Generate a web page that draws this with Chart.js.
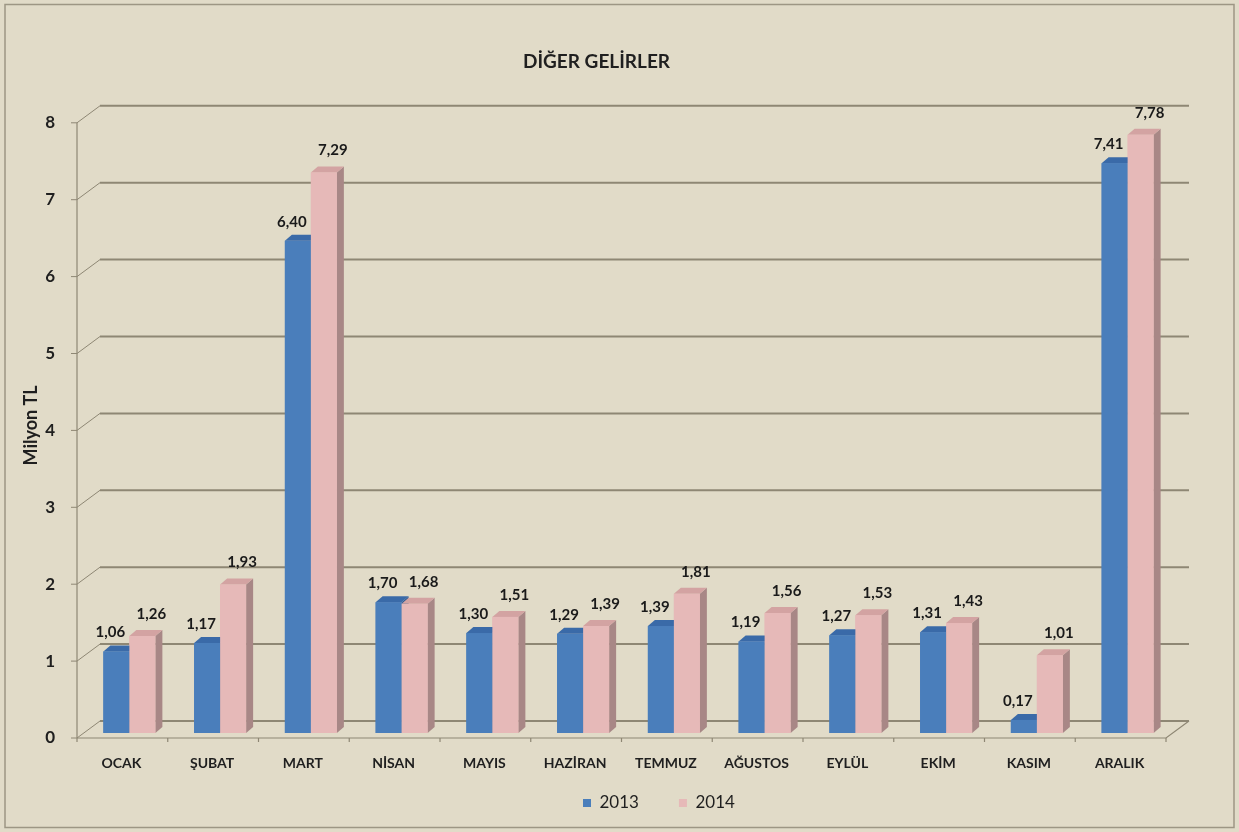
<!DOCTYPE html>
<html>
<head>
<meta charset="utf-8">
<title>Diğer Gelirler</title>
<script src="https://cdn.jsdelivr.net/npm/chart.js@4.4.0/dist/chart.umd.min.js"></script>
<style>
  html, body { margin: 0; padding: 0; background: #e1dbc8; }
  canvas { display: block; }
</style>
</head>
<body>
<canvas id="gelirChart" width="1239" height="832"></canvas>
<script>
// veriler (milyon TL)
const aylar = ['OCAK', 'ŞUBAT', 'MART', 'NİSAN', 'MAYIS', 'HAZİRAN', 'TEMMUZ', 'AĞUSTOS', 'EYLÜL', 'EKİM', 'KASIM', 'ARALIK'];
const gelir2013 = [1.06, 1.17, 6.40, 1.70, 1.30, 1.29, 1.39, 1.19, 1.27, 1.31, 0.17, 7.41];
const gelir2014 = [1.26, 1.93, 7.29, 1.68, 1.51, 1.39, 1.81, 1.56, 1.53, 1.43, 1.01, 7.78];
const yilEtiketleri = ['2013', '2014'];
const yMin = 0;
const yMax = 8;

Chart.defaults.font.family = 'Lato, "Open Sans", sans-serif';
Chart.defaults.color = '#1f1f1f';

// 3B görünüm ayarları
const bar3d = { dx: 7, dy: 6 };
const wall = { dx: 23, dy: 17, front: 5 };
const lejantYer = { x: 583, y: 803 };

const renkler = {
  arka: '#e1dbc8',
  cerceve: '#9d9684',
  izgara: '#8e8774',
  mavi: { on: '#4a7ebb', yan: '#2e5b93', ust: '#3a6aa8' },
  pembe: { on: '#e6b9b8', yan: '#a88786', ust: '#d3a3a2' }
};

const virgul = v => v.toFixed(2).replace('.', ',');

const uc3Boyut = {
  id: 'uc3Boyut',
  beforeDraw(chart) {
    const ctx = chart.ctx;
    ctx.save();
    ctx.fillStyle = renkler.arka;
    ctx.fillRect(0, 0, chart.width, chart.height);
    ctx.strokeStyle = renkler.cerceve;
    ctx.lineWidth = 1.5;
    ctx.strokeRect(5, 4.5, chart.width - 10, chart.height - 9);
    ctx.restore();
  },
  afterLayout(chart) {
    // lejandı referanstaki yerine taşı
    const lg = chart.legend;
    const pad = lg.options.labels.padding;
    const basla = (lg.left + pad + lg.right - lg.lineWidths[0]) / 2;
    const kay = lejantYer.x - basla;
    lg.left += kay;
    lg.right += kay;
    const itemH = lg.options.labels.font.size;
    lg.top = lejantYer.y - itemH / 2 - pad;
    lg.height = itemH + pad * 2;
    lg.bottom = lg.top + lg.height;
  },
  beforeDatasetsDraw(chart) {
    const { ctx, chartArea, scales } = chart;
    const y = scales.y;
    const onSol = chartArea.left - 7;
    const onSag = chartArea.right - 7;
    const arkaSol = onSol + wall.dx;
    const arkaSag = onSag + wall.dx;
    ctx.save();
    ctx.strokeStyle = renkler.izgara;
    for (let v = yMin; v <= yMax; v++) {
      const onY = y.getPixelForValue(v) + wall.front;
      const arkaY = onY - wall.dy;
      // arka duvar çizgisi
      ctx.lineWidth = 2;
      ctx.beginPath();
      ctx.moveTo(arkaSol, arkaY);
      ctx.lineTo(arkaSag, arkaY);
      ctx.stroke();
      // sol duvar bağlantısı
      ctx.lineWidth = 1;
      ctx.beginPath();
      ctx.moveTo(onSol, onY);
      ctx.lineTo(arkaSol, arkaY);
      ctx.stroke();
      // eksen çentiği
      ctx.beginPath();
      ctx.moveTo(onSol - 6, onY);
      ctx.lineTo(onSol, onY);
      ctx.stroke();
    }
    const on0 = y.getPixelForValue(yMin) + wall.front;
    const on8 = y.getPixelForValue(yMax) + wall.front;
    // dikey eksen
    ctx.lineWidth = 1.2;
    ctx.beginPath();
    ctx.moveTo(onSol, on8);
    ctx.lineTo(onSol, on0);
    ctx.stroke();
    // zemin ön kenarı ve sağ kenar
    ctx.beginPath();
    ctx.moveTo(onSol, on0);
    ctx.lineTo(onSag, on0);
    ctx.lineTo(arkaSag, on0 - wall.dy);
    ctx.stroke();
    // kategori çentikleri
    const x = scales.x;
    const adim = (chartArea.right - chartArea.left) / aylar.length;
    for (let i = 0; i <= aylar.length; i++) {
      const px = x.getPixelForValue(0) - adim / 2 + adim * i - 7;
      ctx.beginPath();
      ctx.moveTo(px, on0);
      ctx.lineTo(px, on0 + 4);
      ctx.stroke();
    }
    ctx.restore();
  },
  afterDatasetsDraw(chart) {
    const ctx = chart.ctx;
    const metas = chart.data.datasets.map((d, i) => chart.getDatasetMeta(i));
    const palet = [renkler.mavi, renkler.pembe];
    ctx.save();
    for (let i = 0; i < aylar.length; i++) {
      metas.forEach((meta, d) => {
        const bar = meta.data[i];
        const p = palet[d];
        const sol = bar.x - bar.width / 2;
        const sag = bar.x + bar.width / 2;
        const ust = bar.y;
        const alt = bar.base;
        // yan yüz
        ctx.fillStyle = p.yan;
        ctx.beginPath();
        ctx.moveTo(sag, ust);
        ctx.lineTo(sag + bar3d.dx, ust - bar3d.dy);
        ctx.lineTo(sag + bar3d.dx, alt - bar3d.dy);
        ctx.lineTo(sag, alt);
        ctx.closePath();
        ctx.fill();
        // üst yüz
        ctx.fillStyle = p.ust;
        ctx.beginPath();
        ctx.moveTo(sol, ust);
        ctx.lineTo(sol + bar3d.dx, ust - bar3d.dy);
        ctx.lineTo(sag + bar3d.dx, ust - bar3d.dy);
        ctx.lineTo(sag, ust);
        ctx.closePath();
        ctx.fill();
        // ön yüz
        ctx.fillStyle = p.on;
        ctx.fillRect(sol, ust, bar.width, alt - ust);
      });
    }
    // değer etiketleri
    ctx.font = 'bold 15px Lato, "Open Sans", sans-serif';
    ctx.fillStyle = '#1a1a1a';
    ctx.textAlign = 'center';
    ctx.textBaseline = 'middle';
    const kayma = [{ x: -6, y: -19 }, { x: 9, y: -22 }];
    metas.forEach((meta, d) => {
      const veri = chart.data.datasets[d].data;
      meta.data.forEach((bar, i) => {
        ctx.fillText(virgul(veri[i]), bar.x + kayma[d].x, bar.y + kayma[d].y);
      });
    });
    ctx.restore();
  }
};

const ctx = document.getElementById('gelirChart').getContext('2d');

new Chart(ctx, {
  type: 'bar',
  data: {
    labels: aylar,
    datasets: [{
      label: yilEtiketleri[0],
      data: gelir2013,
      backgroundColor: renkler.mavi.on,
      borderWidth: 0
    }, {
      label: yilEtiketleri[1],
      data: gelir2014,
      backgroundColor: renkler.pembe.on,
      borderWidth: 0
    }]
  },
  options: {
    responsive: false,
    animation: false,
    datasets: {
      bar: { categoryPercentage: 0.573, barPercentage: 1.0 }
    },
    layout: {
      padding: { top: 50, left: 20, right: 66, bottom: 39 }
    },
    plugins: {
      title: {
        display: true,
        text: 'DİĞER GELİRLER',
        font: { size: 19, weight: 'bold' },
        color: '#1f1f1f',
        padding: { top: 0, bottom: 45 }
      },
      legend: {
        position: 'bottom',
        maxHeight: 20,
        labels: {
          boxWidth: 8,
          boxHeight: 8,
          padding: 40,
          font: { size: 17 },
          color: '#1f1f1f'
        }
      },
      tooltip: { enabled: false }
    },
    scales: {
      x: {
        grid: { display: false, drawTicks: false },
        border: { display: false },
        afterFit(scale) { scale.height = 40; },
        ticks: {
          labelOffset: -8,
          padding: 22,
          font: { size: 14, weight: 'bold' },
          color: '#1f1f1f'
        }
      },
      y: {
        min: yMin,
        max: yMax,
        grid: { display: false, drawTicks: false },
        border: { display: false },
        afterFit(scale) { scale.width = 64; },
        ticks: {
          stepSize: 1,
          labelOffset: 5,
          padding: 29,
          font: { size: 17, weight: 'bold' },
          color: '#1f1f1f'
        },
        title: {
          display: true,
          text: 'Milyon TL',
          font: { size: 18, weight: 'bold' },
          color: '#1f1f1f',
          padding: { top: 0, bottom: 0 }
        }
      }
    }
  },
  plugins: [uc3Boyut]
});
</script>
</body>
</html>
